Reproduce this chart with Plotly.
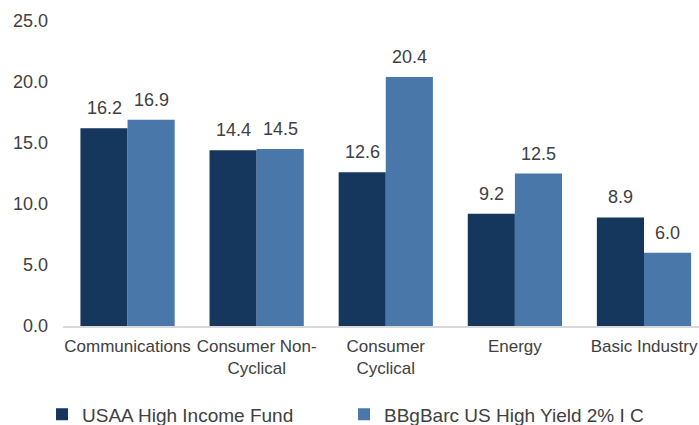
import plotly.graph_objects as go

categories = ["Communications", "Consumer Non-<br>Cyclical", "Consumer<br>Cyclical", "Energy", "Basic Industry"]
fund_name = "USAA High Income Fund"
bench_name = "BBgBarc US High Yield 2% I C"
fund_values = [16.2, 14.4, 12.6, 9.2, 8.9]
bench_values = [16.9, 14.5, 20.4, 12.5, 6.0]
y_ticks = [0, 5, 10, 15, 20, 25]

dark = "#15375D"
light = "#4A77AA"
font_fam = "Liberation Sans, Arial, sans-serif"
txt_col = "#404040"
fs = 17

fig = go.Figure()
fig.add_trace(go.Bar(x=list(range(len(categories))), y=fund_values, name=fund_name, marker_color=dark,
                     marker_line_width=0))
fig.add_trace(go.Bar(x=list(range(len(categories))), y=bench_values, name=bench_name, marker_color=light,
                     marker_line_width=0))

annotations = []
for i, (a, b) in enumerate(zip(fund_values, bench_values)):
    for off, v in ((-0.182, a), (0.182, b)):
        annotations.append(dict(x=i + off, y=v, xref="x", yref="y", text=f"{v:.1f}", showarrow=False,
                                yshift=20, font=dict(size=18, color=txt_col, family=font_fam)))

fig.update_layout(
    width=699, height=425,
    margin=dict(l=63, r=0, t=21, b=99, autoexpand=False),
    paper_bgcolor="white", plot_bgcolor="white",
    barmode="group", bargap=0.27, bargroupgap=0,
    font=dict(family=font_fam, size=fs, color=txt_col),
    showlegend=True,
    legend=dict(orientation="h", x=-0.033, xanchor="left", y=-0.29, yanchor="middle",
                font=dict(size=19, color=txt_col), entrywidth=257, itemwidth=30,
                traceorder="normal"),
    annotations=annotations,
)
fig.update_xaxes(tickvals=list(range(len(categories))), ticktext=categories, range=[-0.5, 4.426],
                 showline=True, linecolor="#D9D9D9", linewidth=1.5, ticks="", showgrid=False,
                 tickfont=dict(size=fs, color=txt_col), zeroline=False, automargin=False,
                 ticklabelstandoff=4)
fig.update_yaxes(range=[0, 25], tickvals=y_ticks, ticktext=[f"{v:.1f}" for v in y_ticks], showgrid=False,
                 zeroline=False, showline=False, ticks="", tickfont=dict(size=18, color=txt_col),
                 ticklabelstandoff=14, automargin=False)

fig.write_html("out.html", config={"displayModeBar": False},
               post_script="document.body.style.margin='0';document.body.style.overflow='hidden';")
